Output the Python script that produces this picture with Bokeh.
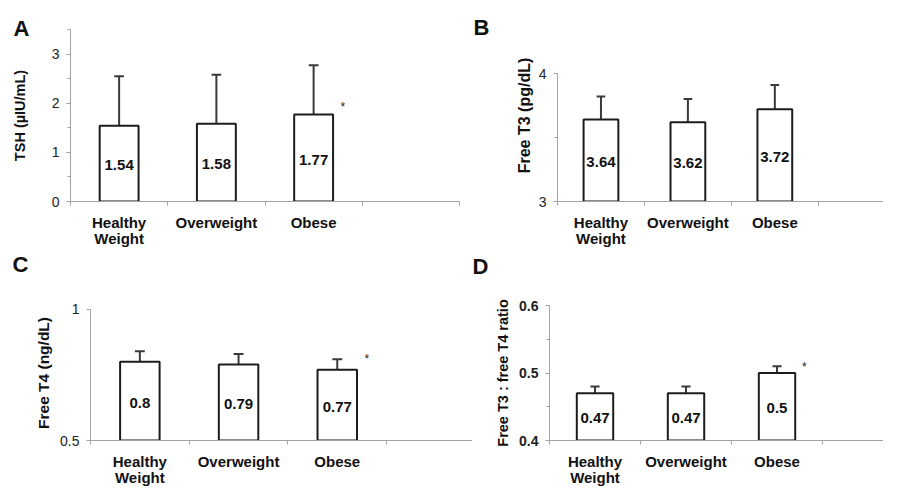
from bokeh.plotting import figure
from bokeh.layouts import column, row
from bokeh.models import FixedTicker, Title
from bokeh.core.properties import value
from bokeh.embed import file_html
from bokeh.resources import INLINE

categories = ["Healthy\nWeight", "Overweight", "Obese"]

tsh_mean = [1.54, 1.58, 1.77]
tsh_upper = [2.55, 2.58, 2.77]
tsh_sig = [False, False, True]
tsh_ticks = [0, 1, 2, 3]
tsh_minor = [0.5, 1.5, 2.5, 3.5]

ft3_mean = [3.64, 3.62, 3.72]
ft3_upper = [3.82, 3.80, 3.91]
ft3_sig = [False, False, False]
ft3_ticks = [3, 4]
ft3_minor = [3.5]

ft4_mean = [0.80, 0.79, 0.77]
ft4_upper = [0.84, 0.83, 0.81]
ft4_sig = [False, False, True]
ft4_ticks = [0.5, 1]
ft4_minor = []

ratio_mean = [0.47, 0.47, 0.50]
ratio_upper = [0.48, 0.48, 0.51]
ratio_sig = [False, False, True]
ratio_ticks = [0.4, 0.5, 0.6]
ratio_minor = [0.45, 0.55]

FONT = "Liberation Sans"
AXIS = "#a3a3a3"


def panel(letter, ylabel, means, upper, sig, yr, ybounds, ticks, minor, xmax,
          width, height, borders, letter_offset, letter_standoff, spacer,
          ylab_size, ylab_standoff, star_frac, tick_bold=False):
    y0, y1 = yr
    bl, br, bt, bb = borders
    p = figure(width=width, height=height, x_range=(0, xmax), y_range=(y0, y1),
               output_backend="svg", toolbar_location=None,
               min_border_left=bl, min_border_right=br,
               min_border_top=bt, min_border_bottom=bb)
    p.xgrid.visible = False
    p.ygrid.visible = False
    p.outline_line_color = None
    p.background_fill_color = "white"

    xs = [i + 0.5 for i in range(len(means))]
    cap = 0.05
    p.segment(x0=xs, y0=means, x1=xs, y1=upper, line_color="#3a3a3a", line_width=2)
    p.segment(x0=[x - cap for x in xs], y0=upper, x1=[x + cap for x in xs], y1=upper,
              line_color="#3a3a3a", line_width=2)
    p.vbar(x=xs, top=means, bottom=ybounds[0], width=0.4, fill_color="white",
           line_color="#1c1c1c", line_width=2)

    base = ybounds[0]
    span = ybounds[1] - ybounds[0]
    ly = [base + 0.48 * (m - base) for m in means]
    p.text(x=xs, y=ly, text=[f"{m:g}" for m in means], text_align="center",
           text_baseline="middle", text_font=value(FONT), text_font_size="15px",
           text_font_style="bold", text_color="#111111")

    sx = [x + 0.3 for x, s in zip(xs, sig) if s]
    sy = [m + star_frac * span for m, s in zip(means, sig) if s]
    if sx:
        p.text(x=sx, y=sy, text=["*"] * len(sx), text_align="center",
               text_baseline="middle", text_font=value(FONT), text_font_size="12px",
               text_color="#222222")

    xa = p.xaxis[0]
    xa.ticker = FixedTicker(ticks=xs, minor_ticks=[0, 1, 2, 3, 4])
    xa.major_label_overrides = {x: c for x, c in zip(xs, categories)}
    xa.major_tick_out = 0
    xa.major_tick_in = 0
    xa.minor_tick_out = 4
    xa.minor_tick_in = 0
    xa.axis_line_color = AXIS
    xa.minor_tick_line_color = AXIS
    xa.major_label_text_font = FONT
    xa.major_label_text_font_size = "15px"
    xa.major_label_text_font_style = "bold"
    xa.major_label_text_color = "#111111"
    xa.major_label_text_line_height = 0.95
    xa.major_label_standoff = 8

    ya = p.yaxis[0]
    ya.bounds = ybounds
    ya.ticker = FixedTicker(ticks=ticks, minor_ticks=minor)
    ya.major_label_overrides = {t: f"{t:g}" for t in ticks}
    ya.major_tick_out = 4
    ya.major_tick_in = 0
    ya.minor_tick_out = 3
    ya.minor_tick_in = 0
    ya.axis_line_color = AXIS
    ya.major_tick_line_color = AXIS
    ya.minor_tick_line_color = AXIS
    ya.major_label_text_font = FONT
    ya.major_label_text_font_size = "14px"
    ya.major_label_text_font_style = "bold" if tick_bold else "normal"
    ya.major_label_text_color = "#222222"
    ya.major_label_standoff = 7
    ya.axis_label = ylabel
    ya.axis_label_text_font = FONT
    ya.axis_label_text_font_size = ylab_size
    ya.axis_label_text_font_style = "bold"
    ya.axis_label_text_color = "#111111"
    ya.axis_label_standoff = ylab_standoff

    if spacer > 0:
        p.add_layout(Title(text=" ", text_font_size="1px", standoff=spacer), "above")
    p.add_layout(Title(text=letter, text_font=FONT, text_font_size="22px",
                       text_font_style="bold", text_color="#111111", align="left",
                       offset=letter_offset, standoff=letter_standoff,
                       vertical_align="bottom"), "above")
    return p


TOP_H, BOT_H = 249, 239

pA = panel("A", "TSH (µIU/mL)", tsh_mean, tsh_upper, tsh_sig, (0, 3.5), (0, 3.5),
           tsh_ticks, tsh_minor, 4, 460, TOP_H, (70, 1, 29, 48), -57, -22, 0,
           "14.5px", 21, 0.043)
pB = panel("B", "Free T3 (pg/dL)", ft3_mean, ft3_upper, ft3_sig, (3, 4.344), (3, 4),
           ft3_ticks, ft3_minor, 3.75, 423, TOP_H, (97, 0, 29, 48), -84, -20, 0,
           "16px", 3, 0.05)
pC = panel("C", "Free T4 (ng/dL)", ft4_mean, ft4_upper, ft4_sig, (0.5, 1.015), (0.5, 1),
           ft4_ticks, ft4_minor, 3.87, 472, BOT_H, (90, 0, 53, 48), -78, 0, 26,
           "15.5px", 5, 0.08)
pD = panel("D", "Free T3 : free T4 ratio", ratio_mean, ratio_upper, ratio_sig, (0.4, 0.6),
           (0.4, 0.6), ratio_ticks, ratio_minor, 3.67, 411, BOT_H, (77, 0, 53, 48), -77, 0, 24,
           "14.5px", 5, 0.045, tick_bold=True)

layout = column(row(pA, pB), row(pC, pD))
open("out.html", "w").write(file_html(layout, INLINE))
